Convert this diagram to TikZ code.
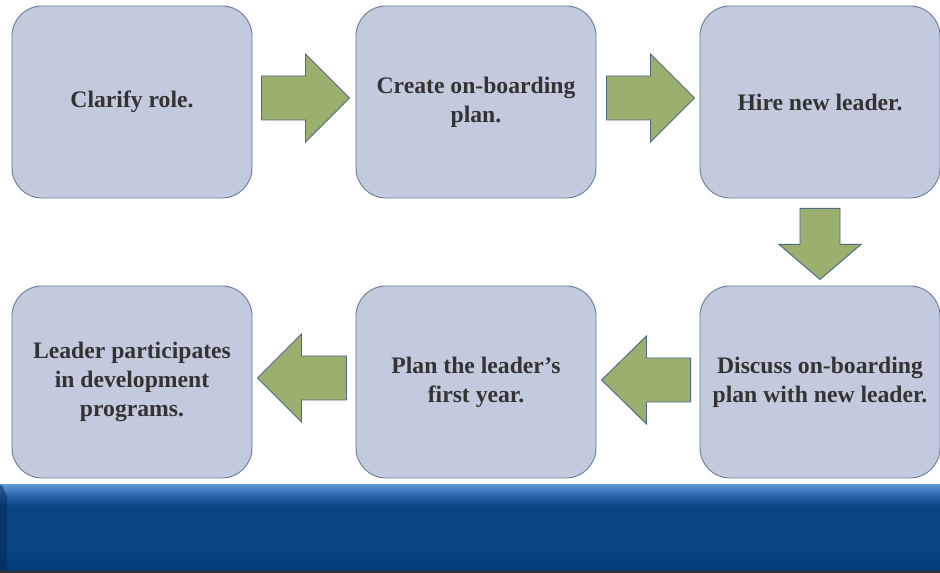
\documentclass[tikz,border=0pt]{standalone}
\usepackage{fontspec}
\setmainfont{Liberation Serif}
\usepackage{tikz}
\usetikzlibrary{positioning,calc}

\definecolor{boxfill}{HTML}{C2CBDD}
\definecolor{boxline}{HTML}{6B7F99}
\definecolor{boxtext}{HTML}{333333}
\definecolor{arrowfill}{HTML}{9BB06F}
\definecolor{arrowline}{HTML}{4E6983}
\definecolor{bartop}{HTML}{5C97D6}
\definecolor{barlight}{HTML}{2F6DB3}
\definecolor{barmid}{HTML}{0B4583}
\definecolor{bardark}{HTML}{023B78}
\definecolor{baredge}{HTML}{333333}

% tikz maps the middle 50bp of a shading onto the path
\pgfdeclareverticalshading{barshade}{100bp}{color(0bp)=(bardark); color(25bp)=(bardark); color(40bp)=(barmid); color(63bp)=(barmid); color(70bp)=(barlight); color(75bp)=(bartop); color(100bp)=(bartop)}

% block arrow: tail point, angle, shaft length, shaft half width, length, head half width
\newcommand{\flowarrow}[6]{%
  \draw[flowarrow, shift={(#1)}, rotate=#2]
    (0,#4) -- (#3,#4) -- (#3,#6) -- (#5,0) -- (#3,-#6) -- (#3,-#4) -- (0,-#4) -- cycle;}

\begin{document}
\begin{tikzpicture}[x=0.03cm, y=0.03cm,
    stepbox/.style={draw=boxline, line width=0.8pt, fill=boxfill, rounded corners=0.9cm,
      minimum width=7.2cm, minimum height=5.76cm, inner sep=0pt, align=center,
      text=boxtext, font=\bfseries\fontsize{20.2}{24.7}\selectfont},
    flowarrow/.style={draw=arrowline, line width=0.8pt, fill=arrowfill, line join=miter}]
\useasboundingbox (0,0) rectangle (940,573);

\node[stepbox] (clarify) at (132,471) {Clarify role.};
\node[stepbox] (create) at (476,471) {Create on-boarding\\plan.};
\node[stepbox] (hire) at (820,471) {Hire new leader.};
\node[stepbox] (discuss) at (820,191) {Discuss on-boarding\\plan with new leader.};
\node[stepbox] (plan) at (476,191) {Plan the leader’s\\first year.};
\node[stepbox] (programs) at (132,191) {Leader participates\\in development\\programs.};

\flowarrow{$(clarify.east)+(9,4)$}{0}{44}{22}{88}{44}
\flowarrow{$(create.east)+(10,4)$}{0}{44}{22}{88}{44}
\flowarrow{$(hire.south)+(0,-10)$}{-90}{36}{20}{71}{41}
\flowarrow{$(discuss.west)+(-9,2)$}{180}{44}{22}{89}{44}
\flowarrow{$(plan.west)+(-9,4)$}{180}{45}{22}{89}{44}

\shade[shading=barshade] (0,2) rectangle (940,88);
\fill[bardark!70!black, opacity=0.5] (0,88) -- (2,88) -- (7,76) -- (7,2) -- (0,2) -- cycle;
\fill[baredge] (0,0) rectangle (940,2);
\end{tikzpicture}
\end{document}
